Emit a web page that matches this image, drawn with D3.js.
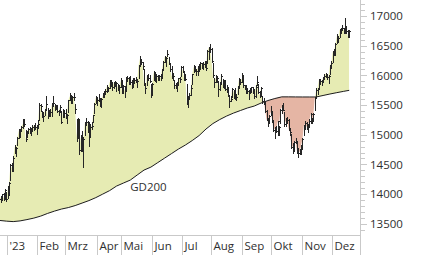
<!DOCTYPE html>
<html>
<head>
<meta charset="utf-8">
<script src="https://cdn.jsdelivr.net/npm/d3@7"></script>
<style>
  html, body { margin: 0; padding: 0; background: #fff; }
  svg { display: block; font-family: "Open Sans", sans-serif; }
</style>
</head>
<body>
<svg id="chart" width="426" height="255"></svg>
<script>
// time axis: month labels and trading sessions per month
const monthNames = ["'23", "Feb", "Mrz", "Apr", "Mai", "Jun", "Jul", "Aug", "Sep", "Okt", "Nov", "Dez"];
const monthDays = [22, 20, 23, 18, 22, 22, 21, 23, 21, 22, 22, 13];
const leadDays = 6; // last sessions of Dec 2022 before the '23 label

const yTicks = [13500, 14000, 14500, 15000, 15500, 16000, 16500, 17000];

// daily closes (Dec 2022 lead-in, then Jan..Dec 2023)
const close = [
  13914, 13941, 13995, 13926, 14071, 13924,
  14069, 14181, 14490, 14436, 14610, 14792, 14774, 14948, 15058, 15087, 15134, 15187, 15181, 14920, 15033, 15103, 15093, 15082, 15132, 15150, 15126, 15128,
  15181, 15509, 15476, 15346, 15321, 15412, 15523, 15308, 15397, 15381, 15507, 15533, 15482, 15478, 15398, 15400, 15475, 15210, 15381, 15365,
  15305, 15328, 15578, 15654, 15559, 15632, 15633, 15428, 14959, 15233, 14735, 14967, 14768, 14934, 15195, 15216, 15210, 14957, 15128, 15142, 15329, 15523, 15629,
  15581, 15603, 15520, 15598, 15655, 15704, 15729, 15808, 15790, 15883, 15896, 15796, 15882, 15863, 15872, 15796, 15800, 15922,
  15726, 15815, 15734, 15961, 15953, 15955, 15896, 15834, 15914, 15917, 15897, 15898, 16164, 16275, 16224, 16153, 15842, 15793, 15984, 15952, 15909, 15664,
  15853, 16051, 15964, 15993, 15960, 15990, 15950, 16098, 16230, 16311, 16290, 16358, 16201, 16112, 15989, 15988, 15830, 15813, 15841, 15949, 15946, 16148,
  16081, 15952, 15937, 15529, 15603, 15673, 15791, 16024, 16141, 16105, 16068, 16126, 16109, 16204, 16178, 16191, 16212, 16132, 16406, 16469, 16447,
  16240, 15999, 15893, 15952, 15950, 15774, 15852, 15997, 15833, 15904, 15768, 15789, 15677, 15575, 15603, 15771, 15729, 15622, 15632, 15792, 15931, 15891, 15947,
  15840, 15825, 15772, 15741, 15718, 15740, 15800, 15715, 15654, 15806, 15894, 15727, 15664, 15782, 15572, 15557, 15406, 15256, 15218, 15323, 15386,
  15247, 15085, 15099, 15070, 15229, 15128, 15424, 15460, 15425, 15187, 15238, 15252, 15095, 15045, 14798, 14800, 14880, 14892, 14731, 14688, 14716, 14810,
  14924, 15144, 15190, 15136, 15153, 15229, 15353, 15235, 15346, 15615, 15748, 15787, 15919, 15901, 15900, 15958, 15995, 16029, 15967, 15993, 16167, 16215,
  16397, 16405, 16533, 16656, 16629, 16759, 16794, 16791, 16766, 16752, 16751, 16650, 16744
];

const high = [
  13990, 13960, 14010, 14020, 14090, 14030,
  14130, 14200, 14510, 14520, 14640, 14830, 14800, 14960, 15090, 15100, 15140, 15270, 15270, 15080, 15060, 15120, 15130, 15110, 15170, 15170, 15200, 15160,
  15250, 15540, 15520, 15400, 15380, 15440, 15660, 15450, 15420, 15440, 15530, 15650, 15510, 15500, 15500, 15420, 15500, 15400, 15430, 15420,
  15430, 15350, 15590, 15700, 15670, 15660, 15700, 15510, 15260, 15280, 15270, 15000, 15070, 14960, 15220, 15280, 15230, 15190, 15180, 15210, 15340, 15530, 15660,
  15620, 15690, 15620, 15620, 15710, 15740, 15770, 15830, 15810, 15920, 15930, 15890, 15890, 15900, 15880, 15860, 15830, 15950,
  15920, 15830, 15820, 15970, 15990, 15970, 15990, 15930, 15950, 15950, 15980, 15940, 16170, 16330, 16260, 16220, 16100, 15870, 16000, 16020, 16000, 15850,
  15870, 16080, 16050, 16020, 16010, 16010, 16030, 16110, 16250, 16330, 16310, 16430, 16310, 16210, 16150, 16040, 15930, 15870, 15880, 15960, 15980, 16150,
  16160, 16050, 16030, 15850, 15660, 15700, 15830, 16030, 16180, 16160, 16100, 16150, 16190, 16220, 16210, 16230, 16240, 16250, 16430, 16480, 16530,
  16460, 16200, 15950, 16000, 15990, 15900, 15880, 16030, 15940, 15920, 15920, 15840, 15800, 15650, 15660, 15790, 15750, 15790, 15680, 15820, 15950, 15930, 16040,
  16000, 15840, 15840, 15790, 15760, 15780, 15810, 15800, 15770, 15830, 15990, 15850, 15730, 15810, 15660, 15620, 15560, 15410, 15280, 15340, 15480,
  15400, 15240, 15130, 15140, 15230, 15150, 15440, 15500, 15530, 15390, 15280, 15300, 15270, 15110, 15010, 14860, 14900, 14950, 14880, 14770, 14760, 14820,
  14940, 15170, 15230, 15220, 15180, 15260, 15360, 15290, 15360, 15640, 15780, 15790, 15940, 15940, 15930, 15970, 16020, 16040, 16020, 16000, 16180, 16250,
  16410, 16450, 16540, 16690, 16660, 16780, 16800, 16840, 16800, 16960, 16830, 16760, 16760
];

const low = [
  13790, 13870, 13900, 13900, 13910, 13880,
  13940, 13980, 14230, 14390, 14390, 14690, 14650, 14830, 14940, 14970, 15060, 15110, 15140, 14900, 14960, 15030, 15030, 14990, 15070, 15080, 15090, 15010,
  15110, 15250, 15400, 15300, 15230, 15340, 15420, 15290, 15310, 15310, 15320, 15480, 15420, 15440, 15380, 15340, 15390, 15200, 15300, 15300,
  15280, 15190, 15380, 15580, 15530, 15530, 15590, 15370, 14900, 14950, 14680, 14720, 14720, 14460, 14990, 15170, 15050, 14810, 14980, 15100, 15210, 15360, 15530,
  15500, 15570, 15480, 15470, 15640, 15640, 15680, 15720, 15740, 15790, 15820, 15760, 15780, 15820, 15740, 15750, 15710, 15800,
  15700, 15700, 15630, 15740, 15910, 15850, 15860, 15790, 15800, 15870, 15880, 15810, 15950, 16170, 16190, 16110, 15830, 15700, 15830, 15930, 15880, 15630,
  15670, 15920, 15910, 15890, 15920, 15920, 15930, 15960, 16110, 16220, 16160, 16320, 16190, 16080, 15960, 15920, 15790, 15780, 15730, 15840, 15880, 15990,
  16050, 15930, 15920, 15520, 15460, 15600, 15670, 15850, 16050, 16080, 16010, 16000, 16080, 16110, 16130, 16100, 16140, 16090, 16210, 16280, 16390,
  16230, 15970, 15810, 15880, 15890, 15650, 15760, 15850, 15800, 15780, 15750, 15720, 15660, 15470, 15560, 15640, 15620, 15610, 15580, 15690, 15790, 15850, 15880,
  15800, 15770, 15700, 15700, 15610, 15700, 15720, 15700, 15620, 15640, 15840, 15710, 15640, 15650, 15540, 15510, 15390, 15240, 15140, 15190, 15330,
  15220, 15060, 14950, 15040, 14990, 14990, 15200, 15370, 15410, 15150, 15150, 15200, 15080, 14990, 14770, 14690, 14720, 14860, 14700, 14630, 14670, 14680,
  14760, 14990, 15100, 15100, 15050, 15130, 15190, 15200, 15250, 15420, 15620, 15680, 15770, 15860, 15830, 15880, 15940, 15970, 15940, 15870, 16020, 16120,
  16220, 16350, 16340, 16550, 16570, 16640, 16710, 16760, 16720, 16720, 16710, 16640, 16660
];

// GD200 (200-day average), by session number
const gd200Day = [0, 5, 10, 15, 20, 25, 30, 35, 40, 45, 50, 55, 60, 65, 70, 75, 80, 85, 90, 95, 100, 105, 110, 115, 120, 125,
  130, 135, 140, 145, 150, 155, 160, 165, 170, 175, 180, 185, 190, 195, 200, 205, 210, 215, 220, 225, 230, 235, 240, 245, 250, 254];
const gd200 = [13557, 13545, 13537, 13549, 13571, 13596, 13630, 13675, 13714, 13748, 13773, 13807, 13849, 13891, 13941, 14000,
  14059, 14135, 14186, 14236, 14321, 14405, 14455, 14531, 14607, 14683, 14759, 14826, 14902, 14986, 15096, 15188, 15256, 15315,
  15365, 15408, 15450, 15483, 15534, 15576, 15610, 15638, 15638, 15637, 15636, 15636, 15636, 15661, 15686, 15709, 15731, 15748];

const textColor = "#2f2f2f";
const gridColor = "#c9c9c9";
const axisX = 360, axisY = 235;

const svg = d3.select("#chart");

// month boundaries in session units
const bounds = [leadDays - 0.5];
monthDays.forEach(n => bounds.push(bounds[bounds.length - 1] + n));

const x = d3.scaleLinear().domain([bounds[0], bounds[11]]).range([7, 332]);
const y = d3.scaleLinear().domain([13500, 17000]).range([223.8, 16]);

const ma = gd200.map((v, i) => ({ day: gd200Day[i], v }));

// fills between price and GD200 via clip paths
const defs = svg.append("defs");
defs.append("clipPath").attr("id", "aboveMA").append("path")
  .attr("d", d3.area().x(d => x(d.day)).y0(0).y1(d => y(d.v))(ma));
defs.append("clipPath").attr("id", "aboveClose").append("path")
  .attr("d", d3.area().x((d, i) => x(i)).y0(0).y1(d => y(d))(close));

svg.append("path")
  .attr("d", d3.area().x((d, i) => x(i)).y0(axisY).y1(d => y(d))(close))
  .attr("fill", "#e6ebb3")
  .attr("clip-path", "url(#aboveMA)");

svg.append("path")
  .attr("d", d3.area().x(d => x(d.day)).y0(axisY).y1(d => y(d.v))(ma))
  .attr("fill", "#e5b5a4")
  .attr("clip-path", "url(#aboveClose)");

// GD200 line
svg.append("path")
  .attr("d", d3.line().x(d => x(d.day)).y(d => y(d.v))(ma))
  .attr("fill", "none")
  .attr("stroke", "#1c1c1c")
  .attr("stroke-width", 1);

svg.append("text")
  .attr("x", x(gd200Day[19]))
  .attr("y", y(gd200[19]) + 10.5)
  .attr("font-size", "11.5px")
  .attr("fill", textColor)
  .text("GD200");

// OHLC-style bars
const bars = svg.append("g")
  .attr("stroke", "#262626")
  .attr("stroke-width", 1)
  .attr("shape-rendering", "crispEdges");

bars.selectAll("line.hl")
  .data(close)
  .join("line")
  .attr("class", "hl")
  .attr("x1", (d, i) => Math.round(x(i)) + 0.5)
  .attr("x2", (d, i) => Math.round(x(i)) + 0.5)
  .attr("y1", (d, i) => Math.round(y(high[i])))
  .attr("y2", (d, i) => Math.round(y(low[i])) + 1);

bars.selectAll("line.cl")
  .data(close)
  .join("line")
  .attr("class", "cl")
  .attr("x1", (d, i) => Math.round(x(i)) + 0.5)
  .attr("x2", (d, i) => Math.round(x(i)) + 2)
  .attr("y1", d => Math.round(y(d)) + 0.5)
  .attr("y2", d => Math.round(y(d)) + 0.5);

// frame lines
svg.append("line")
  .attr("x1", 0).attr("x2", axisX + 0.5)
  .attr("y1", axisY + 0.5).attr("y2", axisY + 0.5)
  .attr("stroke", gridColor);
svg.append("line")
  .attr("x1", axisX + 0.5).attr("x2", axisX + 0.5)
  .attr("y1", 0).attr("y2", 255)
  .attr("stroke", gridColor);

// month separators and labels
const sep = bounds.slice(0, 12);
svg.selectAll("line.sep")
  .data(sep)
  .join("line")
  .attr("class", "sep")
  .attr("x1", d => Math.round(x(d)) + 0.5)
  .attr("x2", d => Math.round(x(d)) + 0.5)
  .attr("y1", axisY)
  .attr("y2", 255)
  .attr("stroke", gridColor);

svg.selectAll("text.month")
  .data(sep)
  .join("text")
  .attr("class", "month")
  .attr("x", d => Math.round(x(d)) + 2.5)
  .attr("y", 250)
  .attr("font-size", "11.5px")
  .attr("fill", textColor)
  .text((d, i) => monthNames[i]);

// right value axis
const minor = d3.range(13400, 17300, 100).filter(v => y(v) >= 0 && y(v) <= axisY);
svg.selectAll("line.tick")
  .data(minor)
  .join("line")
  .attr("class", "tick")
  .attr("x1", axisX + 1)
  .attr("x2", v => axisX + (v % 500 === 0 ? 7 : 5))
  .attr("y1", v => Math.round(y(v)) + 0.5)
  .attr("y2", v => Math.round(y(v)) + 0.5)
  .attr("stroke", gridColor);

svg.selectAll("text.ylab")
  .data(yTicks)
  .join("text")
  .attr("class", "ylab")
  .attr("x", 370)
  .attr("y", v => y(v))
  .attr("dy", "0.36em")
  .attr("font-size", "11.5px")
  .attr("fill", textColor)
  .text(v => v);
</script>
</body>
</html>
